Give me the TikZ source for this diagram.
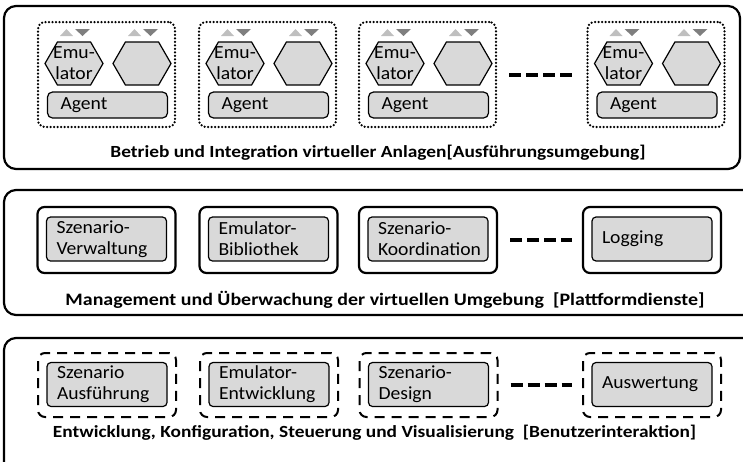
\documentclass[tikz,border=0pt]{standalone}
\usepackage{fontspec}
\setmainfont{Carlito}
\newfontfamily\boxfam{Carlito}[FakeStretch=1.06]
\newfontfamily\titlefam{Carlito}[FakeStretch=1.14]
\usetikzlibrary{positioning,shapes.symbols}
\definecolor{boxgray}{RGB}{217,217,217}
\definecolor{triup}{RGB}{191,191,191}
\definecolor{tridown}{RGB}{127,127,127}
\newcommand{\boxfont}{\boxfam\fontsize{18.5}{21}\selectfont}
\newcommand{\titlefont}{\titlefam\fontsize{17}{20}\selectfont\bfseries}
\tikzset{
  panel/.style={draw, line width=2.2pt, rounded corners=12pt},
  dotgroup/.style={draw, line width=2.5pt, line cap=round, dash pattern=on 0pt off 3.5pt,
    rounded corners=7pt, minimum width=137pt, minimum height=105pt},
  solidgroup/.style={draw, line width=2.2pt, rounded corners=7pt, minimum width=138pt, minimum height=66pt},
  dashgroup/.style={draw, line width=2pt, dash pattern=on 10pt off 7pt, rounded corners=7pt,
    minimum width=138pt, minimum height=64pt},
  graybox/.style={draw, fill=boxgray, line width=1.2pt, rounded corners=4pt, minimum width=120pt,
    minimum height=44pt, inner xsep=10pt, text width=100pt, align=left, font=\boxfont},
  agentbox/.style={graybox, minimum height=26pt, inner ysep=0pt, rounded corners=5pt},
  hexa/.style={draw, fill=boxgray, line width=1.2pt, signal, signal to=west and east,
    signal pointer angle=120, minimum width=58pt, minimum height=43pt, inner sep=0pt},
  emutext/.style={align=center, font=\boxfont, inner sep=0pt},
  sep/.style={line width=4pt, dash pattern=on 12pt off 5pt, shorten <=12pt, shorten >=10pt},
  title/.style={font=\titlefont}
}
% one virtual plant: two emulators on an agent
\newcommand{\emugroup}[2]{
  \node[dotgroup] (#1) at (#2,74.5) {};
  \node[hexa] (#1-emu) at (#2-32.5,63.5) {};
  \node[emutext] (#1-emutxt) at (#1-emu) {Emu-\\lator};
  \node[hexa] (#1-hex) at (#2+35.5,63.5) {};
  \node[agentbox] (#1-agent) at (#2+1,105) {\hspace*{3pt}Agent};
  \foreach \hx in {-32.5,35.5}{
    \fill[triup] (#2+\hx-14,36) -- ++(13,0) -- ++(-6.5,-7) -- cycle;
    \fill[tridown] (#2+\hx+1,29) -- ++(15,0) -- ++(-7.5,7) -- cycle;
  }
}

\begin{document}
\begin{tikzpicture}[x=1pt,y=-1pt]
\useasboundingbox (0,0) rectangle (743,461);
% Ausfuehrungsumgebung
\node[panel, minimum width=736pt, minimum height=163pt] (p1) at (372,87.5) {};
\emugroup{g1}{106.5}\emugroup{g2}{267.5}\emugroup{g3}{427.5}\emugroup{g4}{656}
\draw[sep] (g3.east) -- (g4.west);
\node[title] (t1) at (378,153) {Betrieb und Integration virtueller Anlagen[Ausführungsumgebung]};
% Plattformdienste
\node[panel, minimum width=766pt, minimum height=125pt] (p2) at (387,252.5) {};
\foreach \n/\x/\txt in {sv/106.5/{Szenario-\\Verwaltung}, eb/268.5/{Emulator-\\Bibliothek},
    sk/428/{Szenario-\\Koordination}, lg/652/{Logging}}{
  \node[solidgroup] (\n) at (\x,240) {};
  \node[graybox] (\n-in) at (\x,239) {\txt};
}
\draw[sep] (sk.east) -- (lg.west);
\node[title, font=\titlefont\fontsize{17.5}{20}\selectfont] (t2) at (385,300) {Management und Überwachung der virtuellen Umgebung~~[Plattformdienste]};
% Benutzerinteraktion
\node[panel, minimum width=766pt, minimum height=142pt] (p3) at (387,409) {};
\foreach \n/\x/\txt in {sa/107/{Szenario\\Ausführung}, ee/269/{Emulator-\\Entwicklung},
    sd/428.5/{Szenario-\\Design}, aw/652/{Auswertung}}{
  \node[dashgroup] (\n) at (\x,385) {};
  \node[graybox] (\n-in) at (\x,384.5) {\txt};
}
\draw[sep] (sd.east) -- (aw.west);
\node[title] (t3) at (374.5,433) {Entwicklung, Konfiguration, Steuerung und Visualisierung~~[Benutzerinteraktion]};
\end{tikzpicture}
\end{document}
